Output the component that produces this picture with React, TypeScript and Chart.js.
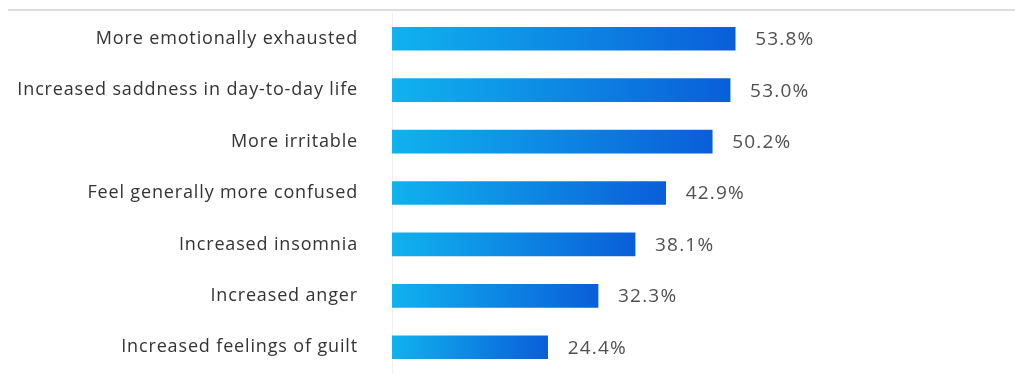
import React, { useEffect, useRef } from "react";
import { Chart, registerables } from "chart.js";

Chart.register(...registerables);

const categories = [
  "More emotionally exhausted",
  "Increased saddness in day-to-day life",
  "More irritable",
  "Feel generally more confused",
  "Increased insomnia",
  "Increased anger",
  "Increased feelings of guilt",
];
const values = [53.8, 53.0, 50.2, 42.9, 38.1, 32.3, 24.4];
const xMin = 0;
const xMax = 95;

const FONT = "'Open Sans'";

const topLine = {
  id: "topLine",
  beforeDraw(chart: any) {
    const c = chart.ctx;
    c.letterSpacing = "0.85px";
    c.save();
    c.strokeStyle = "#dcdcdc";
    c.lineWidth = 2;
    c.beginPath();
    c.moveTo(8, 10);
    c.lineTo(chart.width, 10);
    c.stroke();
    c.restore();
  },
};

const valueLabels = {
  id: "valueLabels",
  afterDatasetsDraw(chart: any) {
    const c = chart.ctx;
    const meta = chart.getDatasetMeta(0);
    c.save();
    c.letterSpacing = "1.2px";
    c.font = `19px ${FONT}`;
    c.fillStyle = "#505050";
    c.textAlign = "left";
    c.textBaseline = "middle";
    meta.data.forEach((bar: any, i: number) => {
      c.fillText(values[i].toFixed(1) + "%", bar.x + 20, bar.y + 1);
    });
    c.restore();
  },
};

export default function App() {
  const ref = useRef<HTMLCanvasElement>(null);
  useEffect(() => {
    if (!ref.current) return;
    const chart = new Chart(ref.current, {
      type: "bar",
      data: {
        labels: categories,
        datasets: [
          {
            data: values,
            barThickness: 23,
            borderWidth: 0,
            backgroundColor: (ctx: any) => {
              const ch = ctx.chart;
              const xs = ch.scales?.x;
              if (!xs || ctx.raw == null) return "#0a8ae6";
              const x0 = xs.getPixelForValue(0);
              const x1 = xs.getPixelForValue(ctx.raw);
              if (!isFinite(x0) || !isFinite(x1) || x1 <= x0) return "#0a8ae6";
              const g = ch.ctx.createLinearGradient(x0, 0, x1, 0);
              g.addColorStop(0, "#10b2ef");
              g.addColorStop(1, "#0a5ed9");
              return g;
            },
          },
        ],
      },
      options: {
        indexAxis: "y",
        animation: false,
        responsive: true,
        maintainAspectRatio: false,
        layout: { padding: { top: 13, bottom: 6, right: 17, left: 0 } },
        plugins: { legend: { display: false }, tooltip: { enabled: false } },
        scales: {
          x: {
            min: xMin,
            max: xMax,
            display: false,
          },
          y: {
            afterFit: (s: any) => {
              s.width = 392;
              s.paddingTop = 0;
              s.paddingBottom = 0;
            },
            grid: { display: false },
            border: { display: true, color: "rgba(0,0,0,0.06)", width: 1, dash: [2, 3] },
            ticks: {
              padding: 26,
              color: "#333333",
              font: { family: FONT, size: 18 },
            },
          },
        },
      },
      plugins: [topLine, valueLabels],
    });
    return () => chart.destroy();
  }, []);
  return (
    <div style={{ position: "absolute", left: 0, top: 0, width: 1015, height: 379 }}>
      <canvas ref={ref} />
    </div>
  );
}
